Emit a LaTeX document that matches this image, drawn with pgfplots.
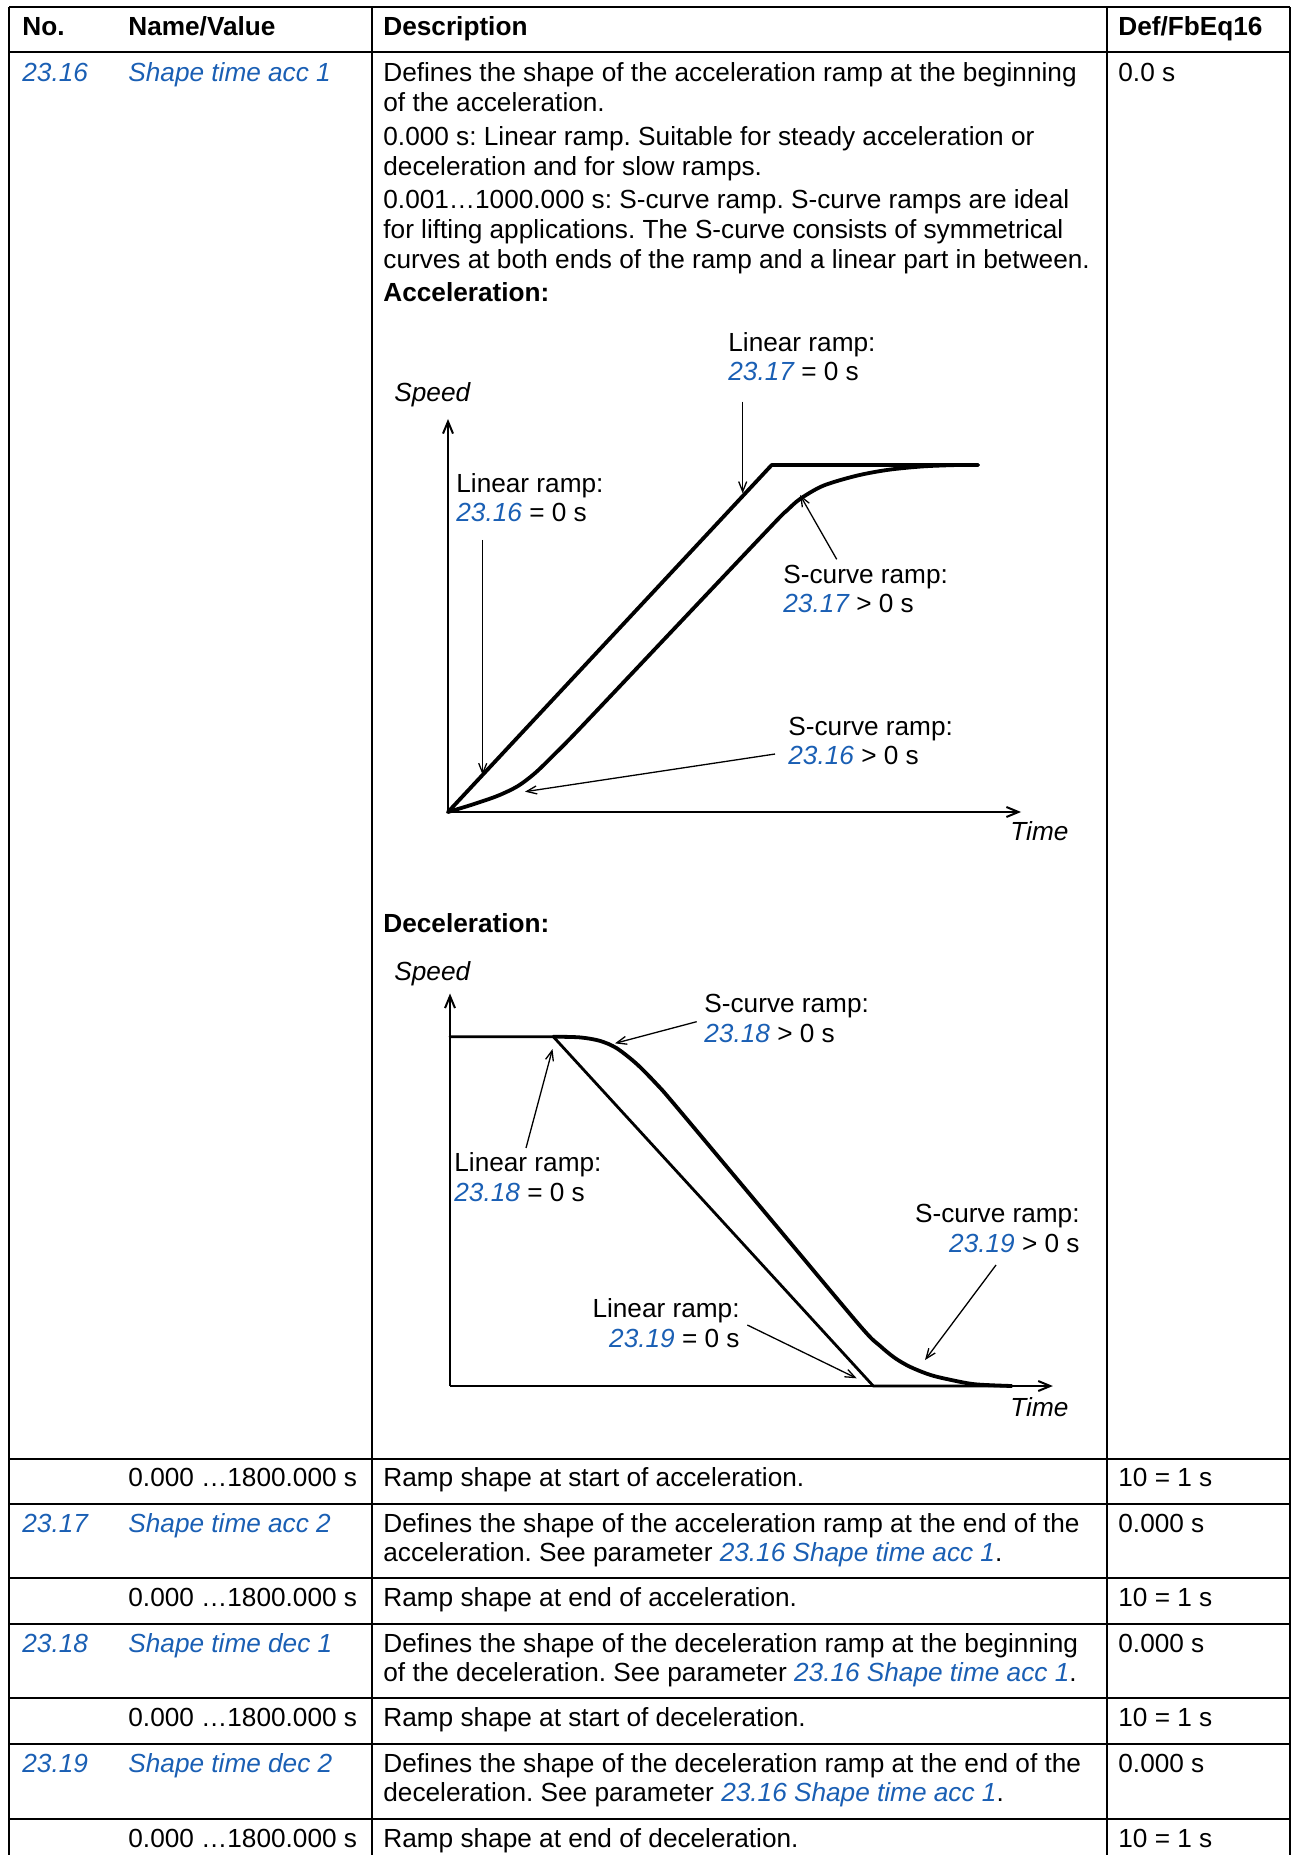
\documentclass[border=0pt]{standalone}
\usepackage{fontspec}
\setmainfont{Liberation Sans}
\usepackage{pgfplots}
\pgfplotsset{compat=1.18}
\usetikzlibrary{arrows.meta}
\definecolor{abbblue}{RGB}{26,95,180}
\newcommand{\pn}[1]{\textcolor{abbblue}{\itshape #1}}

\begin{document}
\frenchspacing
\begin{tikzpicture}[x=0.5pt,y=-0.5pt,
  every node/.style={inner sep=0pt, font=\fontsize{13.1}{15.5}\selectfont\frenchspacing},
  txt/.style={anchor=base west},
  rtxt/.style={anchor=base east},
  curve/.style={black, line width=1.9pt, mark=none, line join=round, line cap=round},
  axarr/.style={line width=1pt, -{Straight Barb[length=6pt,width=5pt]}},
  note/.style={line width=0.65pt, -{Straight Barb[length=5pt,width=4pt]}}]
\path[use as bounding box] (0,0) rectangle (1292,1855);

\begin{scope}
\clip (0,0) rectangle (1292,1855);
% table grid
\draw[line width=1pt] (9,7.5) -- (1290,7.5);
\draw[line width=1pt] (9,52) -- (1290,52);
\foreach \yy in {1459,1504,1578,1624,1698,1744,1819}
  \draw[line width=0.85pt] (9,\yy) -- (1290,\yy);
\foreach \xx in {9,372,1107,1290}
  \draw[line width=0.7pt] (\xx,7.5) -- (\xx,1870);

% header
\node[txt] at (22,36) {\bfseries No.};
\node[txt] at (128,36) {\bfseries Name/Value};
\node[txt] at (383,36) {\bfseries Description};
\node[txt] at (1118,36) {\bfseries Def/FbEq16};

% parameter 23.16
\node[txt] at (22,82) {\pn{23.16}};
\node[txt] at (128,82) {\pn{Shape time acc 1}};
\node[txt] at (1118,82) {0.0 s};
\node[txt] at (383,82) {Defines the shape of the acceleration ramp at the beginning};
\node[txt] at (383,112) {of the acceleration.};
\node[txt] at (383,146) {0.000 s: Linear ramp. Suitable for steady acceleration or};
\node[txt] at (383,176) {deceleration and for slow ramps.};
\node[txt] at (383,209) {0.001…1000.000 s: S-curve ramp. S-curve ramps are ideal};
\node[txt] at (383,239) {for lifting applications. The S-curve consists of symmetrical};
\node[txt] at (383,269) {curves at both ends of the ramp and a linear part in between.};
\node[txt] at (383,302) {\bfseries Acceleration:};
\node[txt] at (383,932) {\bfseries Deceleration:};

% remaining rows
\node[txt] at (128,1486) {0.000 …1800.000 s};
\node[txt] at (383,1486) {Ramp shape at start of acceleration.};
\node[txt] at (1118,1486) {10 = 1 s};

\node[txt] at (22,1532) {\pn{23.17}};
\node[txt] at (128,1532) {\pn{Shape time acc 2}};
\node[txt] at (383,1532) {Defines the shape of the acceleration ramp at the end of the};
\node[txt] at (383,1561) {acceleration. See parameter \pn{23.16 Shape time acc 1}.};
\node[txt] at (1118,1532) {0.000 s};

\node[txt] at (128,1606) {0.000 …1800.000 s};
\node[txt] at (383,1606) {Ramp shape at end of acceleration.};
\node[txt] at (1118,1606) {10 = 1 s};

\node[txt] at (22,1652) {\pn{23.18}};
\node[txt] at (128,1652) {\pn{Shape time dec 1}};
\node[txt] at (383,1652) {Defines the shape of the deceleration ramp at the beginning};
\node[txt] at (383,1681) {of the deceleration. See parameter \pn{23.16 Shape time acc 1}.};
\node[txt] at (1118,1652) {0.000 s};

\node[txt] at (128,1726) {0.000 …1800.000 s};
\node[txt] at (383,1726) {Ramp shape at start of deceleration.};
\node[txt] at (1118,1726) {10 = 1 s};

\node[txt] at (22,1772) {\pn{23.19}};
\node[txt] at (128,1772) {\pn{Shape time dec 2}};
\node[txt] at (383,1772) {Defines the shape of the deceleration ramp at the end of the};
\node[txt] at (383,1801) {deceleration. See parameter \pn{23.16 Shape time acc 1}.};
\node[txt] at (1118,1772) {0.000 s};

\node[txt] at (128,1847) {0.000 …1800.000 s};
\node[txt] at (383,1847) {Ramp shape at end of deceleration.};
\node[txt] at (1118,1847) {10 = 1 s};
\end{scope}

% ---- acceleration diagram (origin at pixel 448,812)
\begin{axis}[at={(224pt,-406pt)}, anchor=south west, x=50pt, y=173.5pt,
  xmin=0, xmax=5.73, ymin=0, ymax=1.14, enlargelimits=false,
  hide axis, clip=false]
  \draw[axarr] (axis cs:0,0) -- (axis cs:0,1.1326);
  \draw[axarr] (axis cs:0,0) -- (axis cs:5.73,0);
  \addplot[curve] coordinates {(0,0) (3.237,1) (5.30,1)};
  \addplot[curve, smooth] coordinates {
    (0,0) (0.25,0.022) (0.5,0.047) (0.7,0.075) (0.87,0.112)
    (1.053,0.163) (1.32,0.2412) (2.30,0.5398) (3.253,0.8300) (3.387,0.8683)
    (3.52,0.902) (3.753,0.9404) (4.087,0.9692) (4.4,0.986) (4.75,0.996)
    (5.1,1) (5.30,1)};
  \draw[note] (axis cs:2.947,1.1825) -- (axis cs:2.947,0.9184);
  \draw[note] (axis cs:0.347,0.7839) -- (axis cs:0.347,0.1066);
  \draw[note] (axis cs:3.887,0.7283) -- (axis cs:3.52,0.9135);
  \draw[note] (axis cs:3.27,0.1671) -- (axis cs:0.77,0.0585);
\end{axis}
\node[txt] at (394,402) {\itshape Speed};
\node[txt] at (1010,840) {\itshape Time};
\node[txt] at (728,352) {Linear ramp:};
\node[txt] at (728,381) {\pn{23.17} = 0 s};
\node[txt] at (456,493) {Linear ramp:};
\node[txt] at (456,522) {\pn{23.16} = 0 s};
\node[txt] at (783,583) {S-curve ramp:};
\node[txt] at (783,612) {\pn{23.17} > 0 s};
\node[txt] at (788,735) {S-curve ramp:};
\node[txt] at (788,764) {\pn{23.16} > 0 s};

% ---- deceleration diagram (origin at pixel 450,1386)
\begin{axis}[at={(225pt,-693pt)}, anchor=south west, x=50pt, y=174.65pt,
  xmin=0, xmax=6.03, ymin=0, ymax=1.13, enlargelimits=false,
  hide axis, clip=false]
  \draw[axarr] (axis cs:0,0) -- (axis cs:0,1.1237);
  \draw[axarr] (axis cs:0,0) -- (axis cs:6.028,0);
  \addplot[curve, line width=1.4pt] coordinates {(0,1) (1.033,1) (4.233,0) (5.617,0)};
  \addplot[curve, smooth] coordinates {
    (1.033,1) (1.30,0.998) (1.50,0.988) (1.667,0.967) (1.867,0.922)
    (2.067,0.864) (2.25,0.8043) (3.2,0.4798) (4.10,0.1723) (4.30,0.115)
    (4.45,0.08) (4.6,0.055) (4.8,0.032) (5.0,0.018) (5.25,0.005) (5.617,0)};
  \draw[note] (axis cs:2.467,1.043) -- (axis cs:1.65,0.981);
  \draw[note] (axis cs:0.76,0.6814) -- (axis cs:1.025,0.9648);
  \draw[note] (axis cs:2.973,0.1746) -- (axis cs:4.067,0.022);
  \draw[note] (axis cs:5.46,0.3464) -- (axis cs:4.75,0.0744);
\end{axis}
\node[txt] at (394,980) {\itshape Speed};
\node[txt] at (1010,1416) {\itshape Time};
\node[txt] at (704,1012) {S-curve ramp:};
\node[txt] at (704,1042) {\pn{23.18} > 0 s};
\node[txt] at (454,1171) {Linear ramp:};
\node[txt] at (454,1201) {\pn{23.18} = 0 s};
\node[rtxt] at (1080,1222) {S-curve ramp:};
\node[rtxt] at (1080,1252) {\pn{23.19} > 0 s};
\node[rtxt] at (740,1317) {Linear ramp:};
\node[rtxt] at (740,1347) {\pn{23.19} = 0 s};
\end{tikzpicture}
\end{document}
